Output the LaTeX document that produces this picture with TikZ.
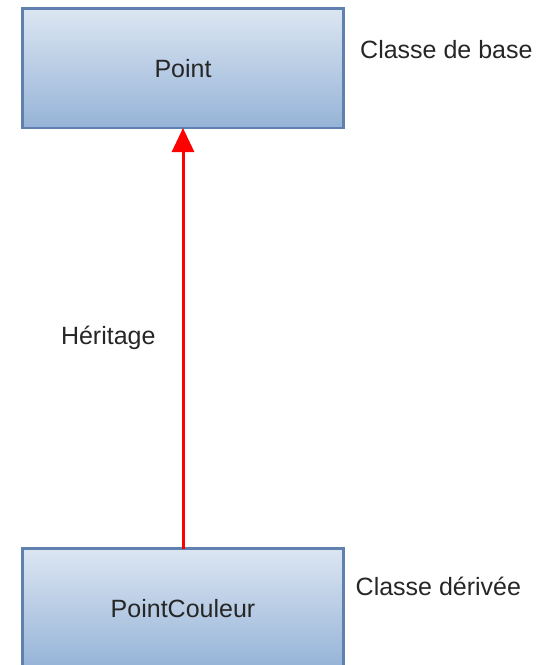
\documentclass[tikz,border=0pt]{standalone}
\usepackage{fontspec}
\setmainfont{Liberation Sans}
\usepackage{xcolor}
\usetikzlibrary{arrows.meta, positioning}

\definecolor{boxtop}{RGB}{220,230,242}
\definecolor{boxbottom}{RGB}{149,179,215}
\definecolor{boxline}{RGB}{96,128,176}

\begin{document}
\begin{tikzpicture}[
		x=1pt, y=1pt,
		font=\fontsize{25pt}{30pt}\selectfont,
		classe/.style={draw=boxline, line width=2.5pt, rectangle, top color=boxtop, bottom color=boxbottom, minimum width=321pt, minimum height=119.5pt, outer sep=0pt, text=black!85},
		note/.style={inner sep=0pt, anchor=base west, text=black!85},
		inherit/.style={-{Triangle[length=24pt,width=22pt]}, red, line width=3pt}
		]
		\useasboundingbox (0,0) rectangle (553,-665);
		
		% Classes
		\node[classe] (point) at (183,-68.25) {Point};
		\node[classe, below=420.5pt of point] (pointcouleur) {PointCouleur};
		
		% Notes
		\node[note] (base) at ([shift={(16.5,-50)}]point.north east) {Classe de base};
		\node[note] (derivee) at ([shift={(12,-47)}]pointcouleur.north east) {Classe dérivée};
		
		% Arrow
		\draw[inherit] (pointcouleur) -- node[pos=0.5, left=26pt, text=black!85, inner sep=0pt] (heritage) {Héritage} (point);
	\end{tikzpicture}
\end{document}
